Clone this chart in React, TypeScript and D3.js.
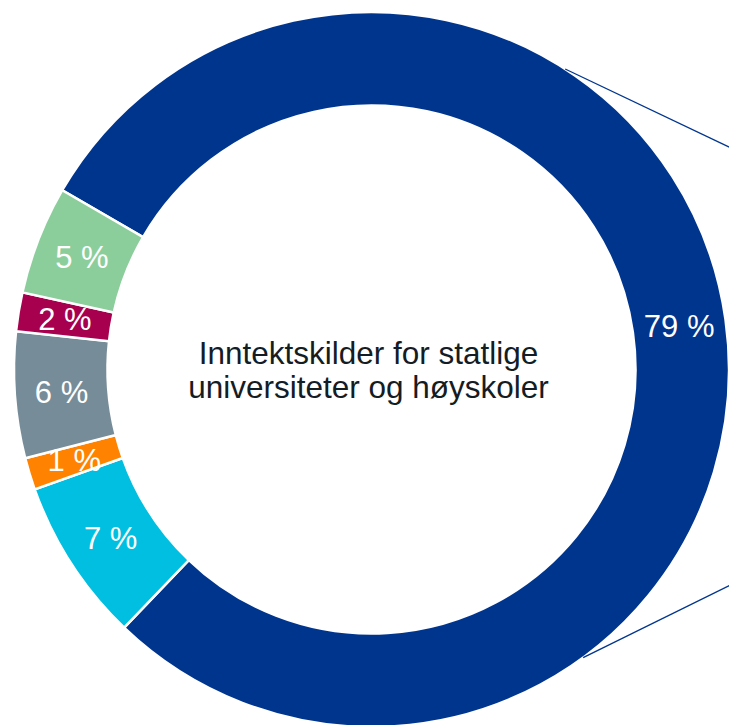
import React from "react";
import * as d3 from "d3";

const categories = ["Statlige bevilgninger", "Bidrags- og oppdragsinntekter", "Andre", "EU", "Forskningsrådet", "Øvrige"];
const values = [78.8, 7.4, 1.45, 5.7, 1.75, 4.9];
const colors = ["#00358E", "#00BFE0", "#FF8200", "#778C99", "#A6004F", "#8CCE9B"];
const titleLines = ["Inntektskilder for statlige", "universiteter og høyskoler"];
const connectorAngles = [32.8, 143.7];
const connectorSlopes = [0.476, -0.493];

const W = 729;
const H = 725;
const cx = 371.5;
const cy = 369.5;
const rOuter = 357.5;
const rInner = 264;
const startDeg = -59.9;

export default function App() {
  const toRad = (d: number) => (d * Math.PI) / 180;
  const pie = d3
    .pie<number>()
    .sort(null)
    .value((d) => d)
    .startAngle(toRad(startDeg))
    .endAngle(toRad(startDeg) + 2 * Math.PI);
  const arcs = pie(values);
  const arc = d3.arc<d3.PieArcDatum<number>>().innerRadius(rInner).outerRadius(rOuter);
  const labelArc = d3
    .arc<d3.PieArcDatum<number>>()
    .innerRadius((rInner + rOuter) / 2)
    .outerRadius((rInner + rOuter) / 2);

  return (
    <svg
      width={W}
      height={H}
      style={{ position: "absolute", left: 0, top: 0 }}
      fontFamily="'Liberation Sans', Arial, sans-serif"
    >
      <rect width={W} height={H} fill="#ffffff" />
      <g transform={`translate(${cx},${cy})`}>
        {arcs.map((a, i) => (
          <path key={categories[i]} d={arc(a) || ""} fill={colors[i]} stroke="#ffffff" strokeWidth={2.5} />
        ))}
        {connectorAngles.map((deg, i) => {
          const x0 = rOuter * Math.sin(toRad(deg));
          const y0 = -rOuter * Math.cos(toRad(deg));
          const x1 = W - cx + 20;
          const y1 = y0 + connectorSlopes[i] * (x1 - x0);
          return <line key={i} x1={x0} y1={y0} x2={x1} y2={y1} stroke="#00358E" strokeWidth={1.3} />;
        })}
        {arcs.map((a, i) => {
          const [lx, ly] = labelArc.centroid(a);
          return (
            <text
              key={"l" + i}
              x={lx}
              y={ly}
              dy="0.36em"
              textAnchor="middle"
              fill="#ffffff"
              fontSize={31}
            >
              {`${Math.round(values[i])} %`}
            </text>
          );
        })}
        {titleLines.map((t, i) => (
          <text
            key={"t" + i}
            x={-3}
            y={-6 + i * 34}
            textAnchor="middle"
            fill="#141c24"
            fontSize={31.5}
          >
            {t}
          </text>
        ))}
      </g>
    </svg>
  );
}
